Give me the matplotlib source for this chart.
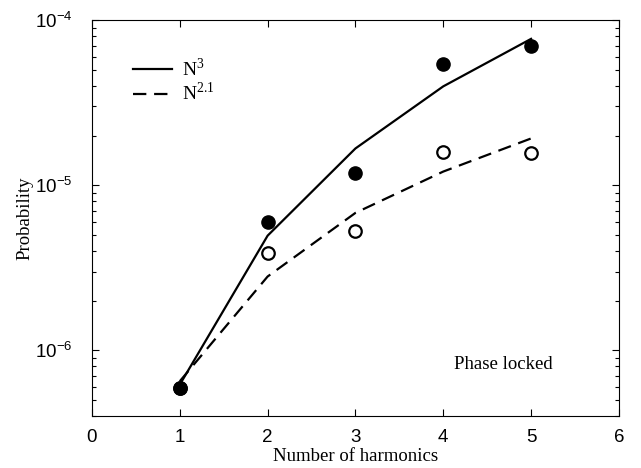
import matplotlib
matplotlib.use("Agg")
import matplotlib.pyplot as plt
from matplotlib.ticker import FixedLocator, LogLocator, NullFormatter

plt.rcParams['mathtext.fontset'] = 'custom'
plt.rcParams['mathtext.rm'] = 'Liberation Serif'
plt.rcParams['mathtext.sf'] = 'Liberation Sans'

# measured probabilities
harmonics = [1, 2, 3, 4, 5]
filled = [5.9e-7, 6.0e-6, 1.19e-5, 5.4e-5, 7.0e-5]
open_pts = [5.9e-7, 3.9e-6, 5.3e-6, 1.58e-5, 1.56e-5]

# power-law guides
fit_n3 = [6.2e-7, 4.95e-6, 1.67e-5, 3.97e-5, 7.7e-5]
fit_n21 = [6.5e-7, 2.8e-6, 6.8e-6, 1.21e-5, 1.92e-5]

xticks = [0, 1, 2, 3, 4, 5, 6]
yticks = [1e-6, 1e-5, 1e-4]
ytick_labels = [r'$\mathsf{10^{-6}}$', r'$\mathsf{10^{-5}}$', r'$\mathsf{10^{-4}}$']

fig = plt.figure(figsize=(6.41, 4.68), dpi=100)
ax = fig.add_axes([0.1435, 0.111, 0.822, 0.846])

ax.plot(harmonics, fit_n3, color='black', lw=1.6, label=r'$\mathrm{N}^{3}$')
ax.plot(harmonics, fit_n21, color='black', lw=1.6, dashes=(6, 3.5),
        label=r'$\mathrm{N}^{2.1}$')
ax.plot(harmonics, open_pts, 'o', ms=9, mfc='white', mec='black', mew=1.6)
ax.plot(harmonics, filled, 'o', ms=9.5, color='black')

ax.set_yscale('log')
ax.set_xlim(0, 6)
ax.set_ylim(4e-7, 1e-4)
ax.xaxis.set_major_locator(FixedLocator(xticks))
ax.yaxis.set_major_locator(FixedLocator(yticks))
ax.set_yticklabels(ytick_labels)
ax.yaxis.set_minor_locator(LogLocator(base=10, subs=range(2, 10)))
ax.yaxis.set_minor_formatter(NullFormatter())

ax.tick_params(which='both', direction='in', top=True, right=True,
               labelsize=13.5)
ax.tick_params(axis='x', pad=9)
ax.tick_params(axis='y', pad=14)
ax.tick_params(which='major', length=5, width=0.8)
ax.tick_params(which='minor', length=3, width=0.8)
for lbl in ax.get_xticklabels():
    lbl.set_fontfamily('Liberation Sans')

ax.set_xlabel('Number of harmonics', fontfamily='Liberation Serif',
              fontsize=13.5, labelpad=2)
ax.set_ylabel('Probability', fontfamily='Liberation Serif', fontsize=13.5,
              labelpad=1)

ax.text(4.68, 8.2e-7, 'Phase locked', fontfamily='Liberation Serif',
        fontsize=13.5, ha='center', va='center')

ax.legend(loc='upper left', bbox_to_anchor=(0.045, 0.95), frameon=False,
          handlelength=2.0, handletextpad=0.5, labelspacing=0.1,
          prop={'size': 14})

fig.savefig('out.png', dpi=100)
